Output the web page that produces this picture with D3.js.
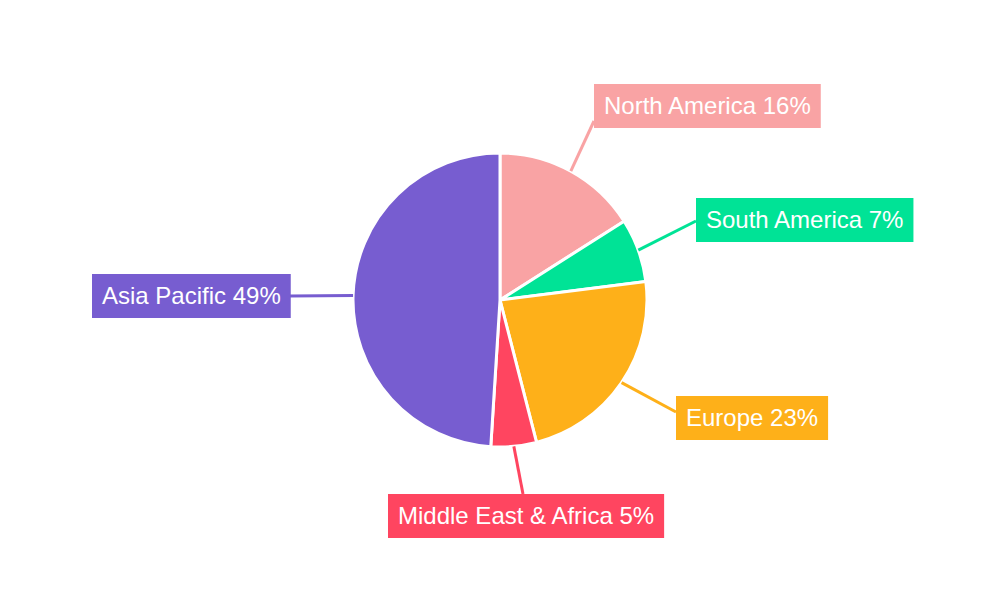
<!DOCTYPE html>
<html>
<head>
<meta charset="utf-8">
<script src="https://cdn.jsdelivr.net/npm/d3@7"></script>
<style>
  html, body { margin: 0; padding: 0; background: #fff; }
  svg { display: block; }
</style>
</head>
<body>
<svg id="chart" width="1000" height="600"></svg>
<script>
// ---- data ----
const regions = ["North America", "South America", "Europe", "Middle East & Africa", "Asia Pacific"];
const shares = [16, 7, 23, 5, 49];
const colors = ["#F9A3A4", "#00E396", "#FEB019", "#FF4560", "#775DD0"];

// ---- layout (label box top-left and connector attach point) ----
const labelLayout = [
  { x: 594, y: 84,  ax: 594, ay: 121 },
  { x: 696, y: 198, ax: 696, ay: 221 },
  { x: 676, y: 396, ax: 676, ay: 412 },
  { x: 388, y: 494, ax: 523, ay: 494 },
  { x: 92,  y: 274, ax: 290, ay: 296 }
];

const svg = d3.select("#chart");
const cx = 500, cy = 300, R = 147;

const data = regions.map((r, i) => ({ region: r, value: shares[i], color: colors[i], lay: labelLayout[i] }));

const pie = d3.pie().value(d => d.value).sort(null).startAngle(0).endAngle(2 * Math.PI);
const arcs = pie(data);
const arc = d3.arc().innerRadius(0).outerRadius(R);

const g = svg.append("g").attr("transform", `translate(${cx},${cy})`);

// connector lines
svg.append("g").selectAll("line")
  .data(arcs)
  .join("line")
  .attr("x1", d => cx + R * Math.sin((d.startAngle + d.endAngle) / 2))
  .attr("y1", d => cy - R * Math.cos((d.startAngle + d.endAngle) / 2))
  .attr("x2", d => d.data.lay.ax)
  .attr("y2", d => d.data.lay.ay)
  .attr("stroke", d => d.data.color)
  .attr("stroke-width", 3);

// slices
g.selectAll("path")
  .data(arcs)
  .join("path")
  .attr("d", arc)
  .attr("fill", d => d.data.color)
  .attr("stroke", "#fff")
  .attr("stroke-width", 3)
  .attr("stroke-linejoin", "round");

// labels
const lab = svg.append("g").selectAll("g")
  .data(arcs)
  .join("g")
  .attr("transform", d => `translate(${d.data.lay.x},${d.data.lay.y})`);

const rects = lab.append("rect")
  .attr("height", 44)
  .attr("fill", d => d.data.color);

const texts = lab.append("text")
  .attr("x", 10)
  .attr("y", 22)
  .attr("dy", "0.35em")
  .attr("fill", "#fff")
  .style("font-family", "'Liberation Sans', Arial, sans-serif")
  .style("font-size", "24px")
  .text(d => `${d.data.region} ${d.data.value}%`);

texts.each(function(d) {
  const w = this.getComputedTextLength();
  d3.select(this.parentNode).select("rect").attr("width", w + 20);
});
</script>
</body>
</html>
